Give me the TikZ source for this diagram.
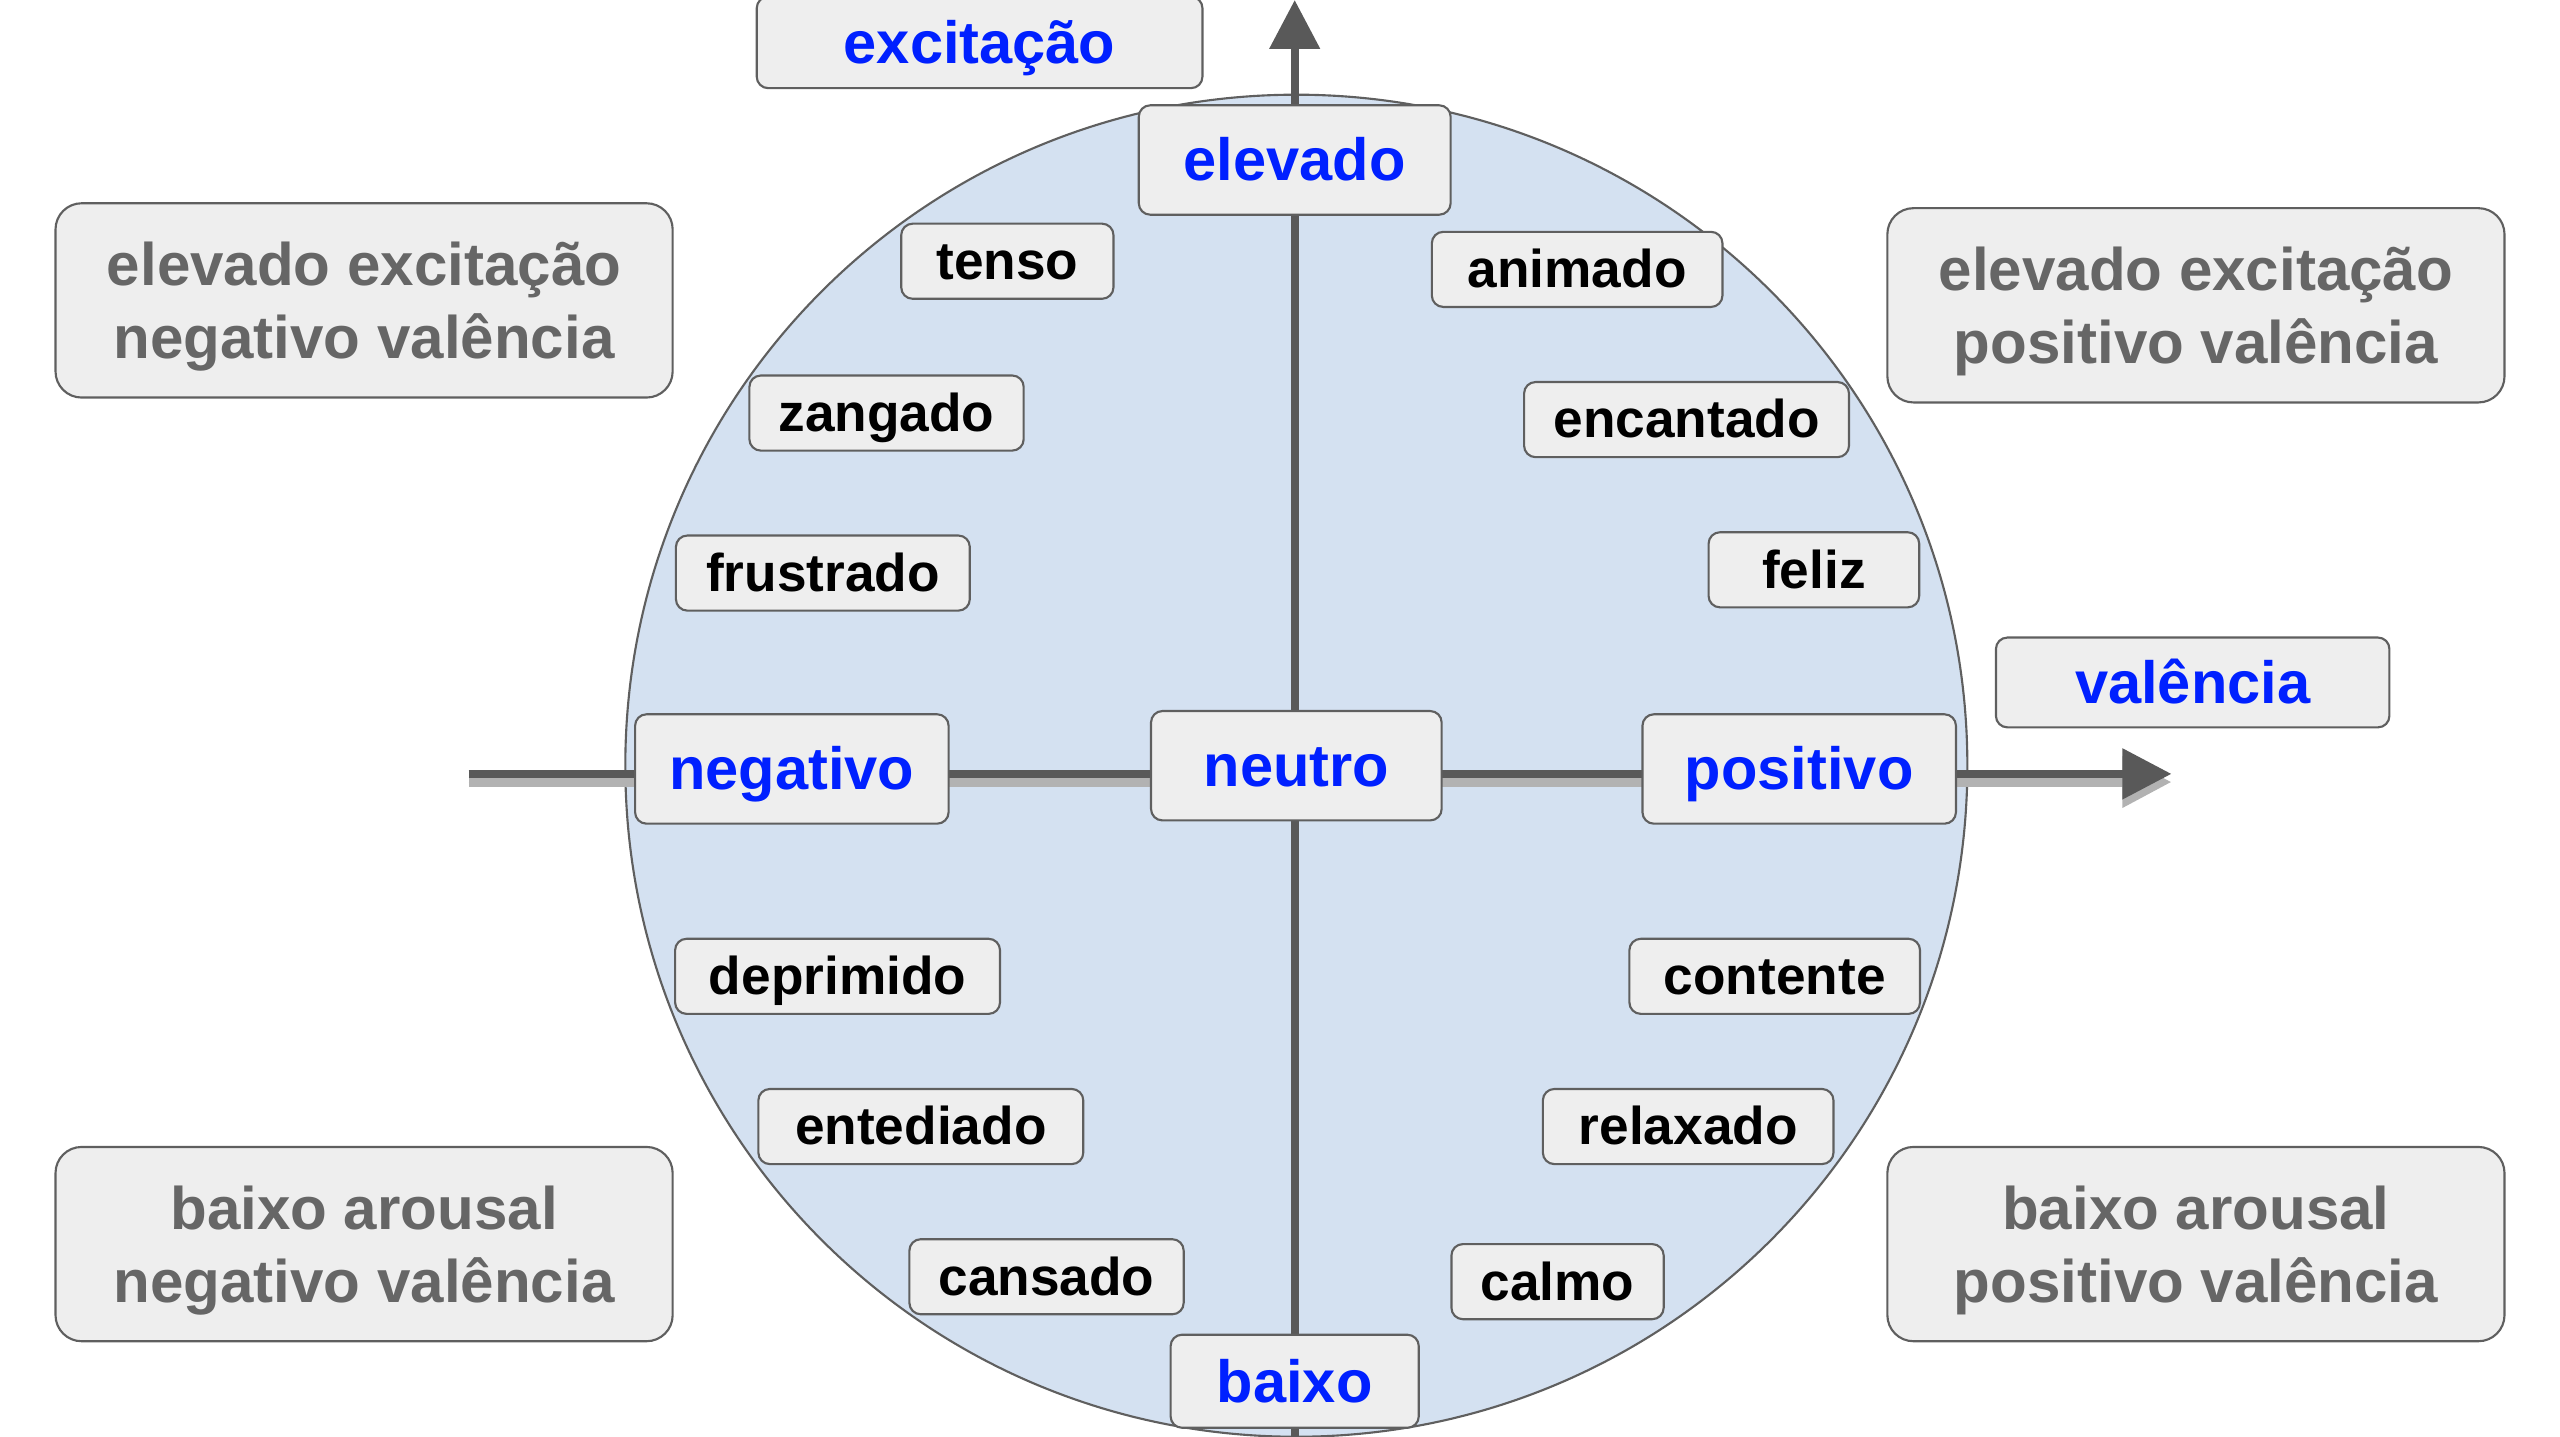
\documentclass[tikz,border=0pt]{standalone}
\usepackage{fontspec}
\setmainfont{Liberation Sans}
\usetikzlibrary{arrows.meta}
\definecolor{discfill}{RGB}{212,225,241}
\definecolor{boxfill}{RGB}{238,238,238}
\definecolor{boxline}{RGB}{95,95,95}
\definecolor{poleblue}{RGB}{0,32,255}
\definecolor{quadgray}{RGB}{102,102,102}
\definecolor{axisgray}{RGB}{89,89,89}
\tikzset{
  x=1pt, y=-1pt,
  box/.style={draw=boxline, fill=boxfill, line width=1.3pt, rounded corners=7pt},
  word/.style={box, inner xsep=0pt, minimum width=#1, minimum height=46pt,
    font=\fontsize{32.6}{39}\selectfont\bfseries, text height=29pt, text depth=6.5pt},
  word/.default=168pt,
  pole/.style={box, inner xsep=0pt, minimum height=67pt, text=poleblue,
    font=\fontsize{36.5}{44}\selectfont\bfseries, text height=33pt, text depth=7.3pt},
  quadrant/.style={box, rounded corners=16pt, minimum width=378pt, minimum height=119pt,
    align=center, text=quadgray, text depth=0pt, font=\fontsize{36.8}{45}\selectfont\bfseries},
  disc/.style={draw=boxline, fill=discfill, line width=1.3pt},
  axis/.style={draw=axisgray, line width=5pt, -{Triangle[length=30pt,width=30pt]}},
  axisshadow/.style={axis, draw=black!30, fill=black!30, line width=6pt, transform canvas={yshift=-5pt}},
}

\begin{document}
\begin{tikzpicture}
  \useasboundingbox (0,0) rectangle (1568,880);

  \coordinate (origin) at (794,469);
  \coordinate (west)   at (287,474);
  \coordinate (east)   at (1330,474);
  \coordinate (south)  at (793,880);
  \coordinate (north)  at (793,0);

  \draw[disc] (origin) circle[radius=411];

  % axes
  \draw[axisshadow] (west) -- (east);
  \draw[axis] (west) -- (east);
  \draw[axis] (south) -- (north);

  % poles
  \node[pole, minimum width=273pt, minimum height=56pt] (arousal) at (600,26)  {excitação};
  \node[pole, minimum width=241pt, minimum height=55pt] (valence) at (1343,418) {valência};
  \node[pole, minimum width=191pt] (high)    at (793,98)   {elevado};
  \node[pole, minimum width=152pt, minimum height=57pt] (low) at (793,846) {baixo};
  \node[pole, minimum width=192pt] (neg)     at (485,471)  {negativo};
  \node[pole, minimum width=178pt] (neutral) at (794,469)  {neutro};
  \node[pole, minimum width=192pt] (pos)     at (1102,471) {positivo};

  % emotions
  \node[word=130pt] (tense)      at (617,160)  {tenso};
  \node[word]       (angry)      at (543,253)  {zangado};
  \node[word=180pt] (frustrated) at (504,351)  {frustrado};
  \node[word=199pt] (depressed)  at (513,598)  {deprimido};
  \node[word=199pt] (bored)      at (564,690)  {entediado};
  \node[word]       (tired)      at (641,782)  {cansado};
  \node[word=178pt] (excited)    at (966,165)  {animado};
  \node[word=199pt] (delighted)  at (1033,257) {encantado};
  \node[word=129pt] (happy)      at (1111,349) {feliz};
  \node[word=178pt] (content)    at (1087,598) {contente};
  \node[word=178pt] (relaxed)    at (1034,690) {relaxado};
  \node[word=130pt] (calm)       at (954,785)  {calmo};

  % quadrants
  \node[quadrant] (nw) at (223,184)  {elevado excitação\\negativo valência};
  \node[quadrant] (ne) at (1345,187) {elevado excitação\\positivo valência};
  \node[quadrant] (sw) at (223,762)  {baixo arousal\\negativo valência};
  \node[quadrant] (se) at (1345,762) {baixo arousal\\positivo valência};
\end{tikzpicture}
\end{document}
